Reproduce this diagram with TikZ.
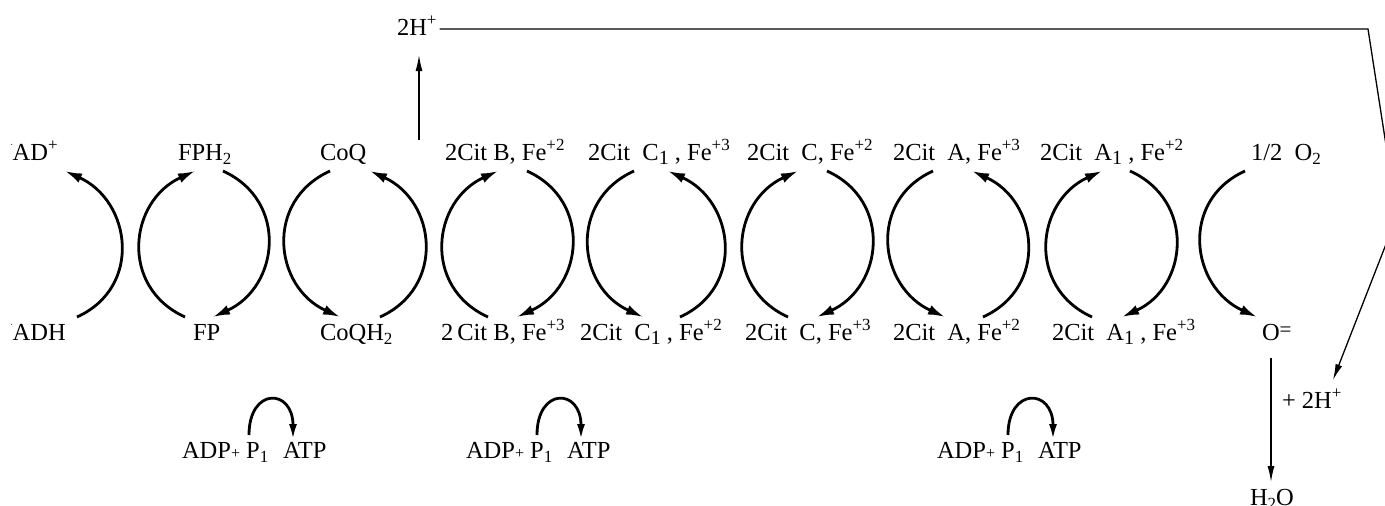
\documentclass[tikz,border=0pt]{standalone}
\usepackage{fontspec}
\setmainfont{Liberation Serif}
\usetikzlibrary{arrows.meta,calc}
\newcommand\mysup[1]{\raisebox{9.5pt}{\fontsize{17}{17}\selectfont #1}}
\newcommand\mysub[1]{\raisebox{-4pt}{\fontsize{17}{17}\selectfont #1}}
\newcommand\myone{\raisebox{-4pt}{\fontsize{20}{20}\selectfont 1}}
\newcommand\smallplus{{\fontsize{16}{16}\selectfont +}}
\begin{document}
\begin{tikzpicture}[x=1pt,y=-1pt,
  lbl/.style={anchor=base west, inner sep=0pt, outer xsep=0pt, outer ysep=5pt,
              text height=18pt, text depth=6pt, font=\fontsize{24.5}{29}\selectfont},
  arcline/.style={line width=2.8pt, -{Latex[length=17pt,width=10pt]}},
  atparrow/.style={line width=2.8pt, -{Latex[length=16pt,width=8pt]}},
  thinarrow/.style={line width=1.3pt, -{Latex[length=16pt,width=7pt]}}]
\useasboundingbox (0,0) rectangle (1385,506);
\clip (0,0) rectangle (1385,506);

% left labels, cut at the left edge as in the source
\begin{scope}
\clip (11,0) rectangle (120,506);
\node[lbl] (t1) at (-5,160) {NAD\mysup{+}};
\node[lbl] (b1) at (-5,340) {NADH};
\end{scope}

% top row
\node[lbl] (t2) at (178,160) {FPH\mysub{2}};
\node[lbl] (t3) at (320,160) {CoQ};
\node[lbl] (t4) at (445,160) {2Cit B, Fe\mysup{+2}};
\node[lbl] (t5) at (588,160) {2Cit\ \ C\myone\ , Fe\mysup{+3}};
\node[lbl] (t6) at (747,160) {2Cit\ \ C, Fe\mysup{+2}};
\node[lbl] (t7) at (893,160) {2Cit\ \ A, Fe\mysup{+3}};
\node[lbl] (t8) at (1040,160) {2Cit\ \ A\myone\ , Fe\mysup{+2}};
\node[lbl] (t9) at (1251,160) {1/2\ \ O\mysub{2}};

% bottom row
\node[lbl] (b2) at (193,340) {FP};
\node[lbl] (b3) at (320,340) {CoQH\mysub{2}};
\node[lbl] (b4) at (441,340) {2\,Cit B, Fe\mysup{+3}};
\node[lbl] (b5) at (580,340) {2Cit\ \ C\myone\ , Fe\mysup{+2}};
\node[lbl] (b6) at (745,340) {2Cit\ \ C, Fe\mysup{+3}};
\node[lbl] (b7) at (893,340) {2Cit\ \ A, Fe\mysup{+2}};
\node[lbl] (b8) at (1052,340) {2Cit\ \ A\myone\ , Fe\mysup{+3}};
\node[lbl] (b9) at (1262,340) {O\raisebox{4pt}{\fontsize{21}{21}\selectfont =}};

% protons and water
\node[lbl, outer ysep=14pt, outer xsep=3pt] (h1) at (394,35) {2H\mysup{+}};
\node[lbl, outer ysep=10pt] (h2) at (1282,408) {+ 2H\mysup{+}};
\node[lbl] (w) at (1250,505) {H\mysub{2}O};

% ADP / ATP
\node[lbl] (adp1) at (182,458) {ADP\smallplus\ P\mysub{1}};
\node[lbl, outer ysep=0pt] (atp1) at (283,458) {ATP};
\node[lbl] (adp2) at (466,458) {ADP\smallplus\ P\mysub{1}};
\node[lbl, outer ysep=0pt] (atp2) at (567,458) {ATP};
\node[lbl] (adp3) at (937,458) {ADP\smallplus\ P\mysub{1}};
\node[lbl, outer ysep=0pt] (atp3) at (1038,458) {ATP};

% gap 1
\draw[arcline] (77,0 |- b1.north) .. controls +(66,-30) and +(66,30) .. (65,0 |- t1.south);
\draw[arcline] (185,0 |- b2.north) .. controls +(-66,-30) and +(-66,30) .. (195,0 |- t2.south);
% gap 2
\draw[arcline] (223,0 |- t2.south) .. controls +(66,30) and +(66,-30) .. (213,0 |- b2.north);
\draw[arcline] (330,0 |- t3.south) .. controls +(-66,30) and +(-66,-30) .. (340,0 |- b3.north);
% gap 3
\draw[arcline] (380,0 |- b3.north) .. controls +(66,-30) and +(66,30) .. (370,0 |- t3.south);
\draw[arcline] (488,0 |- b4.north) .. controls +(-66,-30) and +(-66,30) .. (498,0 |- t4.south);
% gap 4
\draw[arcline] (527,0 |- t4.south) .. controls +(66,30) and +(66,-30) .. (517,0 |- b4.north);
\draw[arcline] (634,0 |- t5.south) .. controls +(-66,30) and +(-66,-30) .. (643,0 |- b5.north);
% gap 5
\draw[arcline] (680,0 |- b5.north) .. controls +(66,-30) and +(66,30) .. (668,0 |- t5.south);
\draw[arcline] (788,0 |- b6.north) .. controls +(-66,-30) and +(-66,30) .. (798,0 |- t6.south);
% gap 6
\draw[arcline] (827,0 |- t6.south) .. controls +(66,30) and +(66,-30) .. (817,0 |- b6.north);
\draw[arcline] (933,0 |- t7.south) .. controls +(-66,30) and +(-66,-30) .. (945,0 |- b7.north);
% gap 7
\draw[arcline] (983,0 |- b7.north) .. controls +(66,-30) and +(66,30) .. (972,0 |- t7.south);
\draw[arcline] (1092,0 |- b8.north) .. controls +(-66,-30) and +(-66,30) .. (1102,0 |- t8.south);
% gap 8
\draw[arcline] (1130,0 |- t8.south) .. controls +(66,30) and +(66,-30) .. (1122,0 |- b8.north);
\draw[arcline] (1245,0 |- t9.south) .. controls +(-66,30) and +(-66,-30) .. (1257,0 |- b9.north);

% ADP -> ATP
\draw[atparrow] (249,0 |- adp1.north) .. controls +(0,-48) and +(0,-52) .. (293,0 |- atp1.north);
\draw[atparrow] (537,0 |- adp2.north) .. controls +(0,-48) and +(0,-52) .. (581,0 |- atp2.north);
\draw[atparrow] (1008,0 |- adp3.north) .. controls +(0,-48) and +(0,-52) .. (1053,0 |- atp3.north);

% proton path
\coordinate (vq) at (419,140);
\draw[thinarrow] (vq) -- (419,0 |- h1.south);
\coordinate (c1) at (1368,29);
\coordinate (c2) at (1397,216);
\draw[thinarrow] (h1.east) -- (c1 |- h1.east) -- (c2) -- (1333,0 |- h2.north);

% O= -> H2O
\draw[thinarrow] ($(1271,0 |- b9.south)+(0,7)$) -- (1271,0 |- w.north);
\end{tikzpicture}
\end{document}
